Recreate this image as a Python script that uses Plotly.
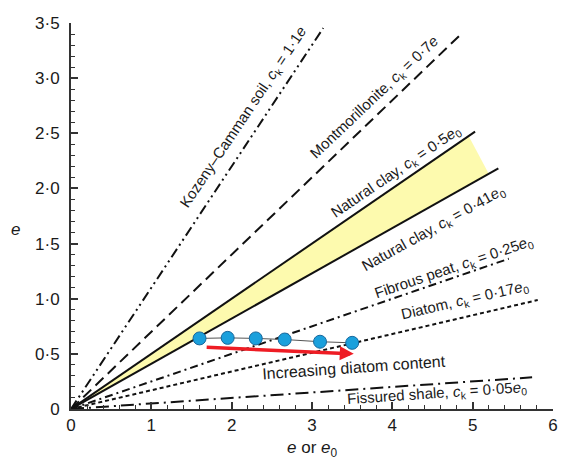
import math
import plotly.graph_objects as go

# Compression-index relations c_k = slope * e (or e0)
line_names = ["Kozeny–Camman soil", "Montmorillonite", "Natural clay", "Natural clay",
              "Fibrous peat", "Diatom", "Fissured shale"]
line_slopes = [1.1, 0.7, 0.5, 0.41, 0.25, 0.17, 0.05]
line_x_end = [3.14, 4.83, 5.03, 5.32, 5.45, 5.81, 5.74]
line_var = ["e", "e", "e0", "e0", "e0", "e0", "e0"]
line_dash = ["10px,4px,2px,4px,2px,4px", "11px,6px", "solid", "solid",
             "8px,4px,2px,4px", "4px,3px", "13px,5px,2px,5px"]
slope_text = ["1·1", "0·7", "0·5", "0·41", "0·25", "0·17", "0·05"]

# label anchor positions (data units)
label_x = [2.15, 3.78, 4.05, 4.51, 4.77, 4.90, 4.56]
label_y = [2.64, 2.82, 2.15, 1.64, 1.28, 0.98, 0.145]

# shaded natural-clay band: ends on the upper (0.5) and lower (0.41) lines
band_x_end = [4.95, 5.2]

# diatomaceous soil measurements
diatom_e0 = [1.6, 1.95, 2.3, 2.66, 3.1, 3.5]
diatom_ck = [0.64, 0.645, 0.64, 0.63, 0.61, 0.6]

# trend arrow
arrow_start = [1.67, 0.56]
arrow_end = [3.52, 0.50]

x_ticks = [0, 1, 2, 3, 4, 5, 6]
x_tick_text = ["0", "1", "2", "3", "4", "5", "6"]
y_ticks = [0, 0.5, 1.0, 1.5, 2.0, 2.5, 3.0, 3.5]
y_tick_text = ["0", "0·5", "1·0", "1·5", "2·0", "2·5", "3·0", "3·5"]

FONT = "Liberation Sans, Arial, sans-serif"
TXT = "#1a1a1a"

# pixel aspect of the plot area, for rotating labels along lines
W_PX, H_PX = 487.5, 386.0
X_RANGE, Y_RANGE = 6.0, 3.5

fig = go.Figure()

# yellow band between the two natural-clay lines
s_up, s_lo = line_slopes[2], line_slopes[3]
fig.add_trace(go.Scatter(
    x=[0, band_x_end[0], band_x_end[1], 0],
    y=[0, s_up * band_x_end[0], s_lo * band_x_end[1], 0],
    mode="lines", fill="toself", fillcolor="#fdfaae",
    line=dict(width=0), hoverinfo="skip", showlegend=False))

for s, xe, d in zip(line_slopes, line_x_end, line_dash):
    fig.add_trace(go.Scatter(
        x=[0, xe], y=[0, s * xe], mode="lines",
        line=dict(color="#111111", width=2, dash=d),
        hoverinfo="skip", showlegend=False))

fig.add_trace(go.Scatter(
    x=diatom_e0, y=diatom_ck, mode="lines+markers",
    line=dict(color="#555555", width=1),
    marker=dict(size=13, color="#1ba0dc", line=dict(color="#17679c", width=1)),
    showlegend=False))

for name, s, var, st, lx, ly in zip(line_names, line_slopes, line_var, slope_text,
                                    label_x, label_y):
    ang = math.degrees(math.atan(s * (H_PX / Y_RANGE) / (W_PX / X_RANGE)))
    ev = "<i>e</i>" if var == "e" else "<i>e</i><sub>0</sub>"
    fig.add_annotation(
        x=lx, y=ly, xref="x", yref="y",
        text=f"{name}, <i>c</i><sub>k</sub> = {st}{ev}",
        showarrow=False, textangle=-ang,
        font=dict(family=FONT, size=15, color=TXT),
        xanchor="center", yanchor="middle")

# red arrow showing the trend
fig.add_annotation(
    x=arrow_end[0], y=arrow_end[1], ax=arrow_start[0], ay=arrow_start[1],
    xref="x", yref="y", axref="x", ayref="y",
    text="", showarrow=True, arrowhead=2, arrowsize=0.8, arrowwidth=3.5,
    arrowcolor="#ee1c24", standoff=0, startstandoff=0)

fig.add_annotation(
    x=3.52, y=0.38, xref="x", yref="y", text="Increasing diatom content",
    showarrow=False, textangle=-4, xanchor="center", yanchor="middle",
    font=dict(family=FONT, size=16, color=TXT))

# axis titles
fig.add_annotation(x=-0.116, y=0.466, xref="paper", yref="paper", text="<i>e</i>",
                   showarrow=False, xanchor="center", yanchor="middle",
                   font=dict(family=FONT, size=17, color=TXT))
fig.add_annotation(x=0.501, y=-0.104, xref="paper", yref="paper",
                   text="<i>e</i> or <i>e</i><sub>0</sub>",
                   showarrow=False, xanchor="center", yanchor="middle",
                   font=dict(family=FONT, size=17, color=TXT))

axis_common = dict(
    showgrid=False, zeroline=False, showline=True, linecolor="#333333", linewidth=2,
    ticks="inside", ticklen=7, tickwidth=1.5, tickcolor="#333333",
    ticklabeloverflow="allow",
    tickfont=dict(family=FONT, size=17, color=TXT))

fig.update_xaxes(range=[0, 6], tickvals=x_ticks, ticktext=x_tick_text,
                 minor=dict(dtick=0.2, ticks="inside", ticklen=4, tickwidth=1,
                            tickcolor="#333333"),
                 **axis_common)
fig.update_yaxes(range=[0, 3.5], tickvals=y_ticks, ticktext=y_tick_text,
                 minor=dict(dtick=0.1, ticks="inside", ticklen=4, tickwidth=1,
                            tickcolor="#333333"),
                 ticklabelstandoff=6,
                 **axis_common)

fig.update_layout(
    width=562, height=459,
    margin=dict(l=71, r=4, t=23, b=50),
    plot_bgcolor="white", paper_bgcolor="white",
    showlegend=False)

fig.write_html("out.html")
